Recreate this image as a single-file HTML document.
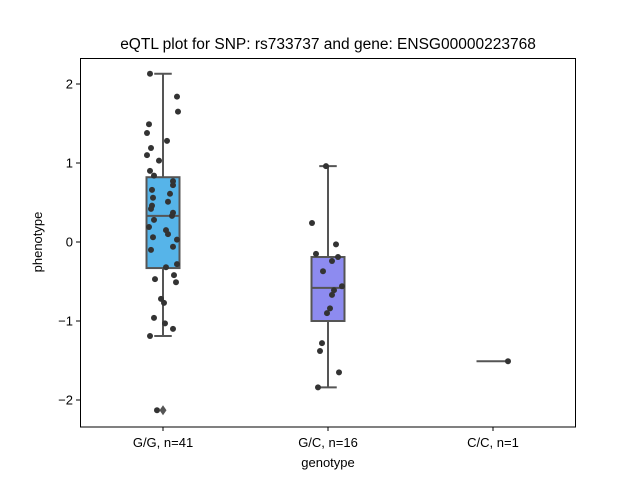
<!DOCTYPE html>
<html><head><meta charset="utf-8"><style>
body{margin:0;background:#fff}
svg text{font-family:"Liberation Sans","DejaVu Sans",sans-serif;fill:#000}
</style></head><body>
<svg id="c" width="640" height="480" xmlns="http://www.w3.org/2000/svg">
<rect width="640" height="480" fill="#fff"/>
<text x="328" y="49" font-size="15.5" text-anchor="middle">eQTL plot for SNP: rs733737 and gene: ENSG00000223768</text>
<text x="328" y="467" font-size="13" text-anchor="middle">genotype</text>
<text transform="translate(42,242) rotate(-90)" font-size="13" text-anchor="middle">phenotype</text>
<g id="plot"></g>
<rect x="80.5" y="58.5" width="495" height="368.5" fill="none" stroke="#000" stroke-width="1"/>
</svg>
<script>
const categories=["G/G, n=41","G/C, n=16","C/C, n=1"];
const colors=["#56b4e9","#8d8bf0",null];
const yTicks=[-2,-1,0,1,2];
const boxQ1=[-0.33,-1.0,-1.51];
const boxMed=[0.33,-0.58,-1.51];
const boxQ3=[0.82,-0.19,-1.51];
const whiskLo=[-1.19,-1.84,-1.51];
const whiskHi=[2.13,0.96,-1.51];
const outliers=[[-2.13],[],[]];
const ggValues=[2.13,1.84,1.65,1.49,1.38,1.28,1.19,1.10,1.03,0.90,0.84,0.77,0.72,0.66,0.61,0.56,0.51,0.46,0.42,0.37,0.33,0.28,0.19,0.15,0.10,0.06,0.03,-0.06,-0.10,-0.28,-0.32,-0.42,-0.47,-0.51,-0.72,-0.77,-0.96,-1.03,-1.10,-1.19,-2.13];
const ggJitter=[-13,14,15,-14,-16,4,-12,-16,-4,-13,-9,10,10,-11,7,-10,5,-11,-12,10,9,-9,-14,3,5,-10,14,10,-12,14,3,11,-8,13,-2,1,-9,2,10,-13,-6];
const gcValues=[0.96,0.24,-0.03,-0.15,-0.19,-0.24,-0.37,-0.56,-0.61,-0.67,-0.84,-0.90,-1.28,-1.38,-1.65,-1.84];
const gcJitter=[-2,-16,8,-12,10,4,-5,14,6,4,2,-1,-6,-8,11,-10];
const ccValues=[-1.51];
const ccJitter=[15];
const pointSets=[ggValues,gcValues,ccValues];
const jitters=[ggJitter,gcJitter,ccJitter];
const y=v=>242-79*v;
const x=i=>163+165*i;
const NS="http://www.w3.org/2000/svg";
const g=document.getElementById('plot');
function mk(t,a){const e=document.createElementNS(NS,t);for(const k in a)e.setAttribute(k,a[k]);g.appendChild(e);return e;}
yTicks.forEach(t=>{
 const l=mk('line',{x1:76,x2:80,y1:y(t),y2:y(t),stroke:'#000'});
 
 
 const tx=mk('text',{x:73,y:y(t)+4.5,'font-size':13,'text-anchor':'end'});
 tx.textContent=(t<0?'\u2212'+(-t):''+t);
 
 
});
categories.forEach((c,i)=>{
 const l=mk('line',{x1:x(i),x2:x(i),y1:427,y2:431,stroke:'#000'});
 
 
 const tx=mk('text',{x:x(i),y:447,'font-size':13,'text-anchor':'middle'});
 tx.textContent=c;
 
 
 const hw=16.5,cx=x(i);
 const st={stroke:'#555','stroke-width':2,fill:'none'};
 if(colors[i]){
  const w1=mk('line',Object.assign({x1:cx,x2:cx,y1:y(boxQ3[i]),y2:y(whiskHi[i])},st));
  
  
  const w2=mk('line',Object.assign({x1:cx,x2:cx,y1:y(boxQ1[i]),y2:y(whiskLo[i])},st));
  
  
  const c1=mk('line',Object.assign({x1:cx-hw/2-0.5,x2:cx+hw/2+0.5,y1:y(whiskHi[i]),y2:y(whiskHi[i])},st));
  
  
  const c2=mk('line',Object.assign({x1:cx-hw/2-0.5,x2:cx+hw/2+0.5,y1:y(whiskLo[i]),y2:y(whiskLo[i])},st));
  
  
  const b=mk('rect',{x:cx-hw,y:y(boxQ3[i]),width:2*hw,height:y(boxQ1[i])-y(boxQ3[i]),fill:colors[i],stroke:'#555','stroke-width':2});
  
  
 }
 const m=mk('line',Object.assign({x1:cx-hw,x2:cx+hw,y1:y(boxMed[i]),y2:y(boxMed[i])},st));
 
 
 outliers[i].forEach(v=>{
  const d=mk('path',{d:`M${cx} ${y(v)-5}L${cx+3.5} ${y(v)}L${cx} ${y(v)+5}L${cx-3.5} ${y(v)}Z`,fill:'#555'});
  
  
 });
 pointSets[i].forEach((v,j)=>{
  const p=mk('circle',{cx:cx+jitters[i][j],cy:y(v),r:3,fill:'#333'});
  
  
 });
});
</script>
</body></html>
